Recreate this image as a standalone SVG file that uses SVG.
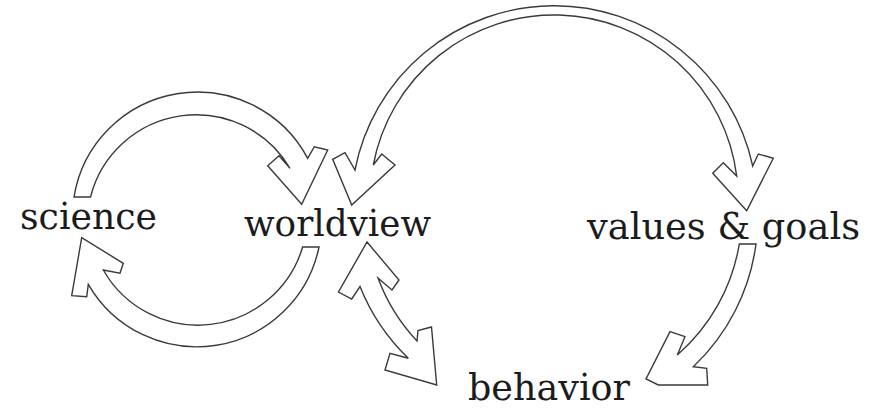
<svg xmlns="http://www.w3.org/2000/svg" width="884" height="409" viewBox="0 0 884 409">
<style>
.arrow{fill:#fff;stroke:#3a3a3a;stroke-width:1.4;stroke-linejoin:miter}
.label{font-family:"DejaVu Serif","Liberation Serif",serif;font-size:37px;fill:#1c1c1c}
</style>
<rect width="884" height="409" fill="#fff"/>
<g id="connectors">
<path id="science-to-worldview" class="arrow" d="M74,197 A125,125 0 0 1 307.7,158.3 L314.3,146.7 L327.7,150 L301.7,204.3 L267.7,165.7 L279,155.7 L290,168.3 A109,109 0 0 0 90.5,197 Z"/>
<path id="worldview-to-science" class="arrow" d="M319,247 A125,125 0 0 1 88.3,284.3 L86.7,296.7 L71.7,295.7 L81.7,237.7 L123.3,263.3 L120,273.3 L103.3,270 A109,109 0 0 0 302.6,247 Z"/>
<path id="worldview-values" class="arrow" d="M355,170 A203,203 0 0 1 752.7,166 L758.3,154 L773.3,158.3 L746.7,210.7 L712.7,173.3 L723.3,162.7 L736.7,176 A184,184 0 0 0 373.3,165 L381.7,154 L395,165 L351.7,205 L332.7,159.3 L345,152.7 Z"/>
<path id="worldview-behavior" class="arrow" d="M367,242 L399,280 L392,290 L378,278 A187,187 0 0 0 417,341 L418,330.5 L431.5,327 L436.7,385 L385,370 L390,353.3 L408.3,358.3 A206,206 0 0 1 360,286.5 L351.7,299 L338.5,292 Z"/>
<path id="values-to-behavior" class="arrow" d="M756,244 A206,206 0 0 1 693.3,366.7 L706.7,368.3 L707.7,385 L658.3,385 L646,379 L670,331.7 L685,336.7 L677.3,355 A188,188 0 0 0 739.3,244 Z"/>
</g>
<g id="science"><text class="label" x="20" y="229" textLength="137" lengthAdjust="spacingAndGlyphs">science</text></g>
<g id="worldview"><text class="label" x="244" y="236" textLength="187" lengthAdjust="spacingAndGlyphs">worldview</text></g>
<g id="values-goals"><text class="label" x="587" y="239" textLength="273" lengthAdjust="spacingAndGlyphs">values &amp; goals</text></g>
<g id="behavior"><text class="label" x="468" y="400" textLength="162" lengthAdjust="spacingAndGlyphs">behavior</text></g>
</svg>
